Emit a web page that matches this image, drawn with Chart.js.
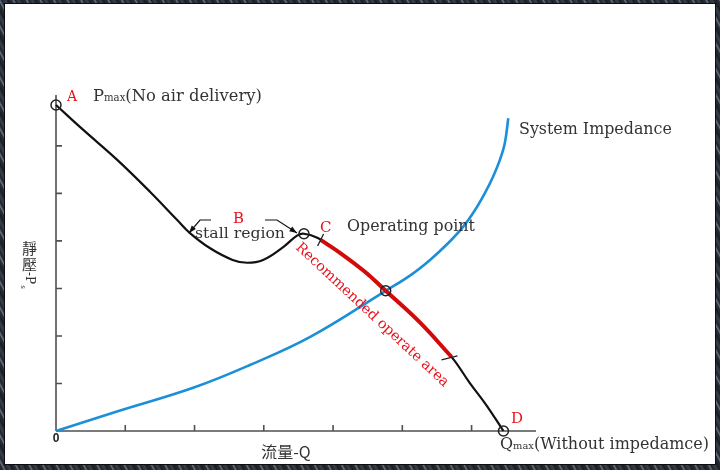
<!DOCTYPE html>
<html>
<head>
<meta charset="utf-8">
<script src="https://cdn.jsdelivr.net/npm/chart.js@4.4.1/dist/chart.umd.min.js"></script>
<style>
  html, body { margin: 0; padding: 0; overflow: hidden; }
  body {
    width: 720px; height: 470px;
    background: repeating-linear-gradient(62deg, #1d2127 0px, #2b3038 3px, #6b7684 4px, #1f232a 6px, #3a414c 9px, #15181d 12px);
  }
  canvas { display: block; }
</style>
</head>
<body>
<canvas id="c" width="720" height="470"></canvas>
<script>
// ---- data (axis units = tick spacing) ----
const fanX = [0, 0.39, 0.88, 1.36, 1.75, 1.93, 2.22, 2.55, 2.76, 2.99, 3.28, 3.48, 3.58, 3.78, 4.10, 4.46, 4.76, 5.25, 5.71, 5.97, 6.22, 6.46];
const fanY = [6.86, 6.34, 5.71, 5.03, 4.44, 4.17, 3.85, 3.60, 3.54, 3.60, 3.87, 4.11, 4.15, 4.06, 3.75, 3.35, 2.95, 2.29, 1.56, 1.02, 0.53, 0];
const recX = [3.82, 4.10, 4.46, 4.76, 5.25, 5.71];
const recY = [4.02, 3.75, 3.35, 2.95, 2.29, 1.56];
const sysX = [0, 0.88, 1.98, 2.80, 3.67, 4.76, 5.11, 5.40, 5.66, 5.88, 6.05, 6.19, 6.31, 6.41, 6.48, 6.53];
const sysY = [0, 0.41, 0.91, 1.39, 1.98, 2.95, 3.27, 3.60, 3.95, 4.30, 4.65, 5.00, 5.35, 5.71, 6.06, 6.58];
const keyX = [0, 3.58, 4.76, 6.46];          // A, B, operating point, D
const keyY = [6.86, 4.15, 2.95, 0];
const xTicks = [1, 2, 3, 4, 5, 6];
const yTicks = [1, 2, 3, 4, 5, 6];
const xLabel = '流量-Q';
const yLabelChars = ['靜', '壓'];

const pts = (xs, ys) => xs.map((x, i) => ({ x: x, y: ys[i] }));

const SERIF = '"DejaVu Serif", "Liberation Serif", serif';
const CJK = '"Noto Sans CJK TC", "Noto Sans CJK SC", sans-serif';

function fitSize(ctx, text, target, family, base) {
  ctx.font = base + 'px ' + family;
  const w = ctx.measureText(text).width;
  return base * target / w;
}

const decor = {
  id: 'decor',
  beforeDraw(chart) {
    const ctx = chart.ctx;
    ctx.save();
    ctx.fillStyle = '#ffffff';
    ctx.fillRect(5, 4, 710, 460);
    ctx.strokeStyle = '#0d0d0d';
    ctx.lineWidth = 1;
    ctx.strokeRect(4.5, 3.5, 711, 461);
    ctx.restore();
  },
  beforeDatasetsDraw(chart) {
    const ctx = chart.ctx, xs = chart.scales.x, ys = chart.scales.y;
    const x0 = xs.getPixelForValue(0), y0 = ys.getPixelForValue(0);
    ctx.save();
    ctx.strokeStyle = '#505050';
    ctx.lineWidth = 1.6;
    ctx.beginPath();
    ctx.moveTo(x0, y0); ctx.lineTo(xs.getPixelForValue(xs.max), y0);
    ctx.moveTo(x0, y0); ctx.lineTo(x0, ys.getPixelForValue(ys.max));
    xTicks.forEach(v => { const p = xs.getPixelForValue(v); ctx.moveTo(p, y0); ctx.lineTo(p, y0 - 6); });
    yTicks.forEach(v => { const p = ys.getPixelForValue(v); ctx.moveTo(x0, p); ctx.lineTo(x0 + 6, p); });
    ctx.stroke();
    ctx.restore();
  },
  afterDatasetsDraw(chart) {
    const ctx = chart.ctx, xs = chart.scales.x, ys = chart.scales.y;
    ctx.save();
    const dark = '#333333', red = '#e8101a';

    // A / Pmax label
    ctx.textBaseline = 'alphabetic';
    ctx.textAlign = 'left';
    ctx.fillStyle = red;
    ctx.font = '14px ' + SERIF;
    ctx.fillText('A', 67, 101);
    {
      const s = 14.5;
      ctx.fillStyle = dark;
      ctx.font = s + 'px ' + SERIF;
      const wP = ctx.measureText('P').width;
      ctx.font = (s * 0.62) + 'px ' + SERIF;
      const wM = ctx.measureText('max').width;
      ctx.font = s + 'px ' + SERIF;
      const wR = ctx.measureText('(No air delivery)').width;
      const k = 169 / (wP + wM + wR);
      let x = 93;
      ctx.font = (s * k) + 'px ' + SERIF; ctx.fillText('P', x, 101); x += wP * k;
      ctx.font = (s * 0.62 * k) + 'px ' + SERIF; ctx.fillText('max', x, 101); x += wM * k;
      ctx.font = (s * k) + 'px ' + SERIF; ctx.fillText('(No air delivery)', x, 101);
    }

    // B / stall region
    ctx.fillStyle = red;
    ctx.font = '15px ' + SERIF;
    ctx.fillText('B', 233, 223);
    ctx.fillStyle = dark;
    ctx.font = fitSize(ctx, 'stall region', 90, SERIF, 14) + 'px ' + SERIF;
    ctx.fillText('stall region', 195, 238);

    // stall arrows
    function arrow(pathPts) {
      ctx.strokeStyle = '#111';
      ctx.fillStyle = '#111';
      ctx.lineWidth = 1.2;
      ctx.beginPath();
      ctx.moveTo(pathPts[0][0], pathPts[0][1]);
      for (let i = 1; i < pathPts.length; i++) ctx.lineTo(pathPts[i][0], pathPts[i][1]);
      ctx.stroke();
      const [ax, ay] = pathPts[pathPts.length - 1];
      const [bx, by] = pathPts[pathPts.length - 2];
      const ang = Math.atan2(ay - by, ax - bx);
      ctx.beginPath();
      ctx.moveTo(ax, ay);
      ctx.lineTo(ax - 8 * Math.cos(ang - 0.35), ay - 8 * Math.sin(ang - 0.35));
      ctx.lineTo(ax - 8 * Math.cos(ang + 0.35), ay - 8 * Math.sin(ang + 0.35));
      ctx.closePath();
      ctx.fill();
    }
    arrow([[211, 220], [200, 220], [189, 233]]);
    arrow([[265, 220], [277, 220], [297, 233]]);

    // C / Operating point
    ctx.fillStyle = red;
    ctx.font = '15px ' + SERIF;
    ctx.fillText('C', 320, 232);
    ctx.fillStyle = dark;
    ctx.font = fitSize(ctx, 'Operating point', 128, SERIF, 14) + 'px ' + SERIF;
    ctx.fillText('Operating point', 347, 231);

    // ticks marking the recommended area
    const sx = xs.getPixelForValue(recX[0]), sy = ys.getPixelForValue(recY[0]);
    const ex = xs.getPixelForValue(recX[recX.length - 1]), ey = ys.getPixelForValue(recY[recY.length - 1]);
    ctx.strokeStyle = '#222';
    ctx.lineWidth = 1.3;
    ctx.beginPath();
    ctx.moveTo(sx + 3, sy - 6); ctx.lineTo(sx - 3, sy + 6);
    ctx.moveTo(ex - 10, ey + 3); ctx.lineTo(ex + 6, ey - 1);
    ctx.stroke();

    // Recommended operate area (rotated)
    ctx.save();
    ctx.translate(372, 315);
    ctx.rotate(43 * Math.PI / 180);
    ctx.textAlign = 'center';
    ctx.textBaseline = 'middle';
    ctx.fillStyle = red;
    ctx.font = fitSize(ctx, 'Recommended operate area', 204, SERIF, 14) + 'px ' + SERIF;
    ctx.fillText('Recommended operate area', 0, 0);
    ctx.restore();

    // System Impedance
    ctx.textAlign = 'left';
    ctx.textBaseline = 'alphabetic';
    ctx.fillStyle = dark;
    ctx.font = fitSize(ctx, 'System Impedance', 153, SERIF, 14) + 'px ' + SERIF;
    ctx.fillText('System Impedance', 519, 134);

    // D / Qmax
    ctx.fillStyle = red;
    ctx.font = '15px ' + SERIF;
    ctx.fillText('D', 511, 423);
    {
      const s = 14.5;
      ctx.fillStyle = dark;
      ctx.font = s + 'px ' + SERIF;
      const wQ = ctx.measureText('Q').width;
      ctx.font = (s * 0.62) + 'px ' + SERIF;
      const wM = ctx.measureText('max').width;
      ctx.font = s + 'px ' + SERIF;
      const wR = ctx.measureText('(Without impedamce)').width;
      const k = 209 / (wQ + wM + wR);
      let x = 500;
      ctx.font = (s * k) + 'px ' + SERIF; ctx.fillText('Q', x, 449); x += wQ * k;
      ctx.font = (s * 0.62 * k) + 'px ' + SERIF; ctx.fillText('max', x, 449); x += wM * k;
      ctx.font = (s * k) + 'px ' + SERIF; ctx.fillText('(Without impedamce)', x, 449);
    }

    // origin label
    ctx.fillStyle = '#222';
    ctx.textAlign = 'center';
    ctx.textBaseline = 'top';
    ctx.font = 'bold 12px "Liberation Sans", Arial, sans-serif';
    ctx.fillText('0', 56, 433);

    // x axis title
    ctx.fillStyle = dark;
    ctx.textBaseline = 'middle';
    ctx.font = '16px ' + CJK;
    ctx.fillText(xLabel, 286, 452);

    // y axis title (stacked)
    ctx.font = '15px ' + CJK;
    ctx.fillText(yLabelChars[0], 29.5, 248);
    ctx.fillText(yLabelChars[1], 29.5, 264.5);
    ctx.save();
    ctx.translate(29, 272);
    ctx.rotate(Math.PI / 2);
    ctx.textAlign = 'left';
    ctx.textBaseline = 'middle';
    ctx.font = '12px ' + SERIF;
    ctx.fillText('-P', 0, 0);
    const wp = ctx.measureText('-P').width;
    ctx.font = '7px ' + SERIF;
    ctx.fillText('s', wp + 1, 6);
    ctx.restore();

    ctx.restore();
  }
};

new Chart(document.getElementById('c'), {
  type: 'scatter',
  data: {
    datasets: [
      { label: 'key points', data: pts(keyX, keyY), showLine: false, pointRadius: 5, pointHoverRadius: 5,
        pointBorderColor: '#222', pointBackgroundColor: 'rgba(0,0,0,0)', pointBorderWidth: 1.5, clip: false },
      { label: 'Recommended operate area', data: pts(recX, recY), showLine: true, borderColor: '#d40a0a',
        borderWidth: 4, pointRadius: 0, tension: 0.4, clip: false },
      { label: 'Fan curve', data: pts(fanX, fanY), showLine: true, borderColor: '#111111',
        borderWidth: 2.2, pointRadius: 0, tension: 0.4, clip: false },
      { label: 'System Impedance', data: pts(sysX, sysY), showLine: true, borderColor: '#1b8fd8',
        borderWidth: 2.6, pointRadius: 0, tension: 0.4, clip: false }
    ]
  },
  options: {
    responsive: false,
    animation: false,
    devicePixelRatio: 1,
    layout: { padding: { left: 56, top: 95, right: 184, bottom: 39 } },
    scales: {
      x: { type: 'linear', min: 0, max: 6.93, display: false },
      y: { type: 'linear', min: 0, max: 7.07, display: false }
    },
    plugins: { legend: { display: false }, tooltip: { enabled: false } }
  },
  plugins: [decor]
});
</script>
</body>
</html>
